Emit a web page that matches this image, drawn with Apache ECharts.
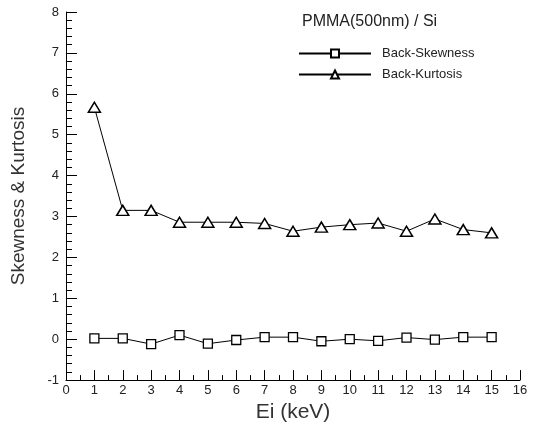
<!DOCTYPE html>
<html>
<head>
<meta charset="utf-8">
<script src="https://cdn.jsdelivr.net/npm/echarts@6/dist/echarts.min.js"></script>
<style>html,body{margin:0;padding:0;background:#fff}#c{width:533px;height:428px}</style>
</head>
<body>
<div id="c"></div>
<script>
var energies = [1,2,3,4,5,6,7,8,9,10,11,12,13,14,15];
var skewness = [0.02,0.02,-0.12,0.10,-0.11,-0.02,0.05,0.05,-0.05,0.00,-0.04,0.04,-0.01,0.05,0.05];
var kurtosis = [5.67,3.15,3.15,2.86,2.86,2.86,2.83,2.64,2.74,2.80,2.84,2.64,2.94,2.68,2.60];
var xTicks = {min:0, max:16, interval:1};
var yTicks = {min:-1, max:8, interval:1};

function pairs(ys){ return energies.map(function(x,i){return [x, ys[i]];}); }

var font = 'Liberation Sans, Arial, sans-serif';
var chart = echarts.init(document.getElementById('c'), null, {renderer:'canvas'});
chart.setOption({
  animation:false,
  backgroundColor:'#fff',
  title:{
    text:'PMMA(500nm) / Si', left:297, top:9,
    textStyle:{fontFamily:font, fontSize:16, fontWeight:'normal', color:'#222'}
  },
  legend:{
    orient:'vertical', left:293, top:42, itemWidth:72, itemHeight:10, itemGap:8,
    textStyle:{fontFamily:font, fontSize:13, color:'#222', padding:[0,0,0,6]},
    data:['Back-Skewness','Back-Kurtosis']
  },
  grid:{left:66, right:13, top:12, bottom:46, containLabel:false},
  xAxis:{
    type:'value', min:xTicks.min, max:xTicks.max, interval:xTicks.interval,
    name:'Ei (keV)', nameLocation:'middle', nameGap:21,
    nameTextStyle:{fontFamily:font, fontSize:21, color:'#333'},
    axisLine:{onZero:false, lineStyle:{color:'#000', width:1}},
    axisTick:{inside:true, length:10, lineStyle:{color:'#000'}},
    minorTick:{show:true, splitNumber:2, length:5, lineStyle:{color:'#000'}},
    axisLabel:{fontFamily:font, fontSize:13, color:'#222', margin:4},
    splitLine:{show:false}
  },
  yAxis:{
    type:'value', min:yTicks.min, max:yTicks.max, interval:yTicks.interval,
    name:'Skewness & Kurtosis', nameLocation:'middle', nameGap:38,
    nameTextStyle:{fontFamily:font, fontSize:19, color:'#333'},
    axisLine:{show:true, onZero:false, lineStyle:{color:'#000', width:1}},
    axisTick:{show:true, inside:true, length:11, lineStyle:{color:'#000'}},
    minorTick:{show:true, splitNumber:5, length:6, lineStyle:{color:'#000'}},
    axisLabel:{fontFamily:font, fontSize:13, color:'#222', margin:7},
    splitLine:{show:false}
  },
  series:[
    {
      name:'Back-Skewness', type:'line', data:pairs(skewness),
      symbol:'rect', symbolSize:9,
      itemStyle:{color:'#fff', borderColor:'#000', borderWidth:1.3},
      lineStyle:{color:'#000', width:1}
    },
    {
      name:'Back-Kurtosis', type:'line', data:pairs(kurtosis),
      symbol:'triangle', symbolSize:[12,10],
      itemStyle:{color:'#fff', borderColor:'#000', borderWidth:1.5},
      lineStyle:{color:'#000', width:1}
    }
  ]
});
</script>
</body>
</html>
